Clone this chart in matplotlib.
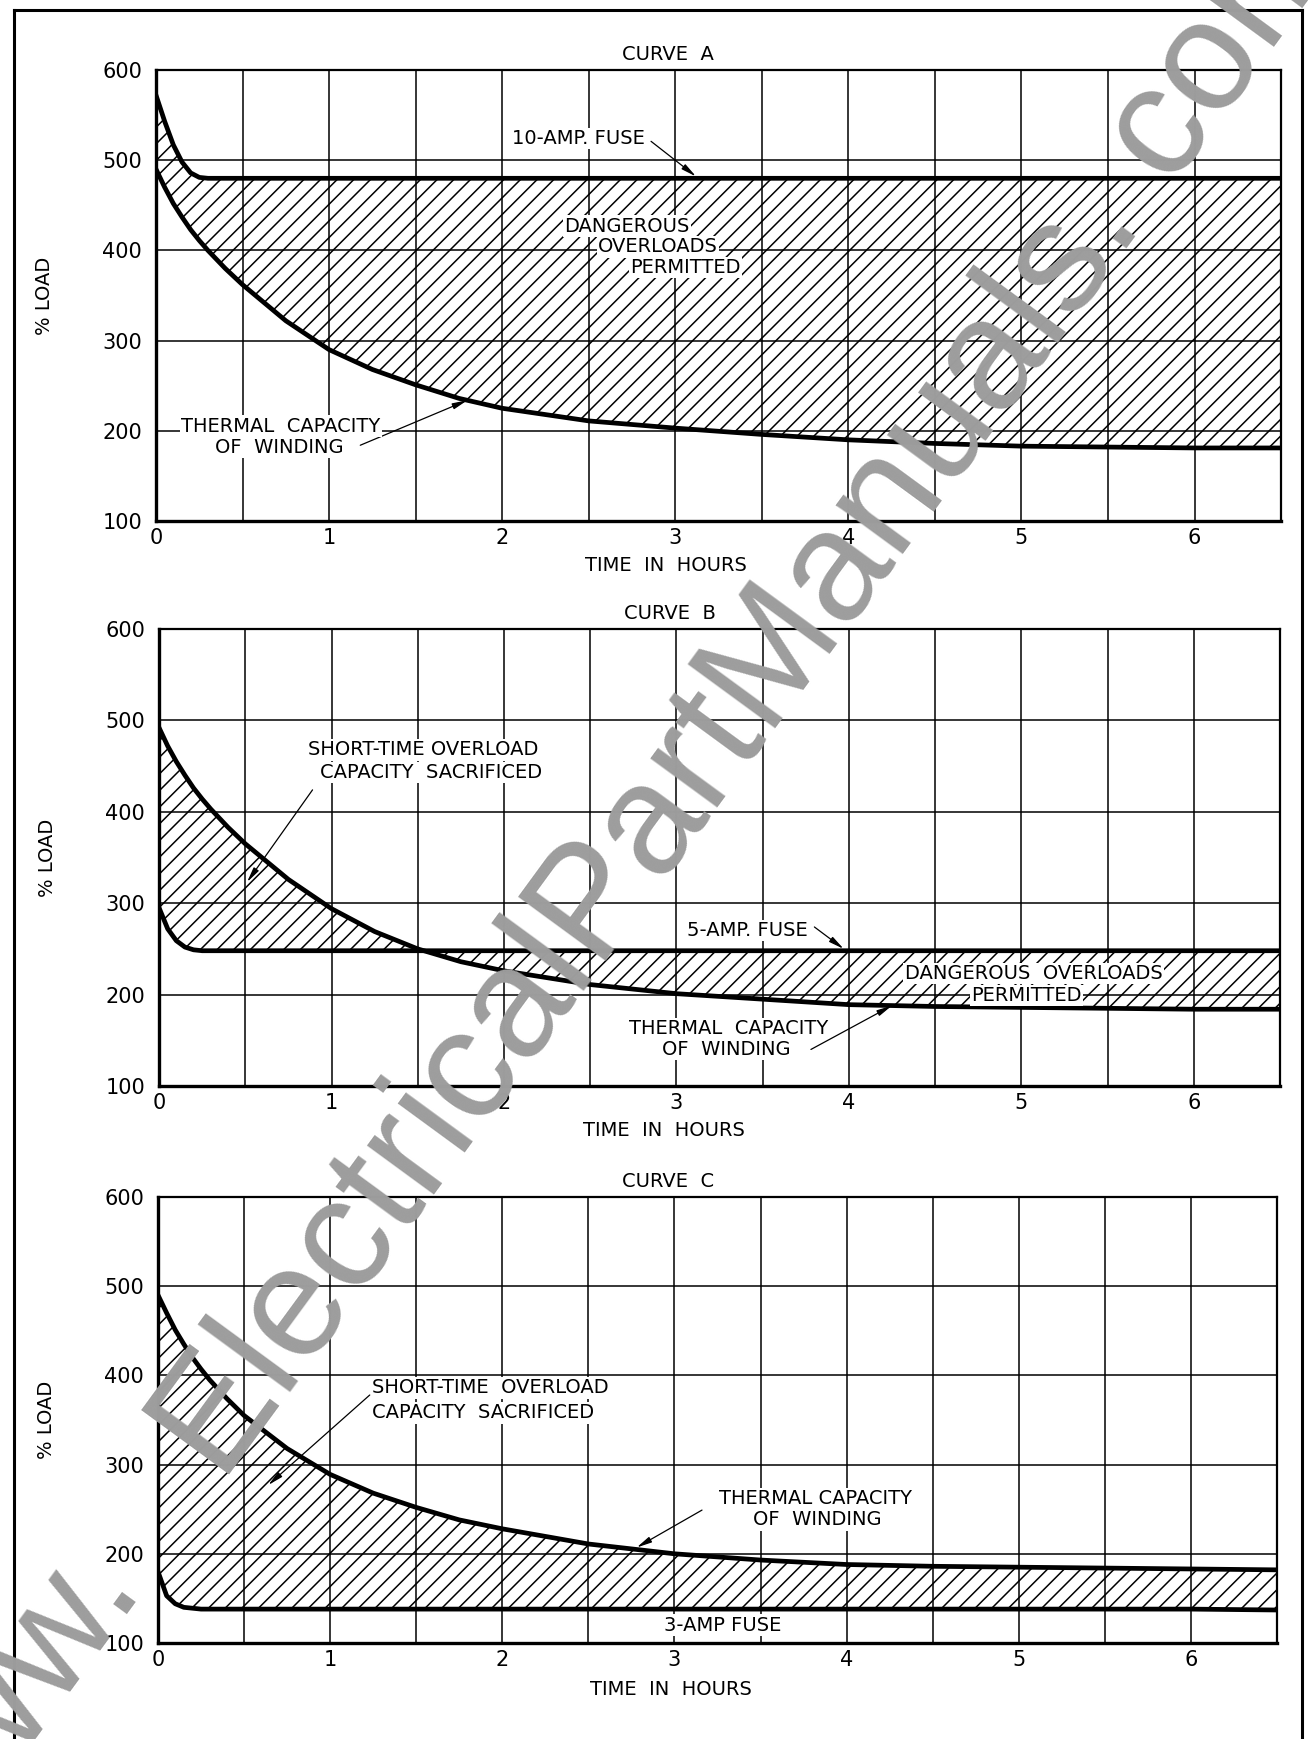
import numpy as np
import matplotlib
matplotlib.use('Agg')
import matplotlib.pyplot as plt
from matplotlib.lines import Line2D

# time axis shared by all three curves (hours)
hours = [0, 0.05, 0.1, 0.15, 0.2, 0.25, 0.3, 0.4, 0.5, 0.75, 1.0, 1.25, 1.5,
         1.75, 2.0, 2.5, 3.0, 3.5, 4.0, 4.5, 5.0, 5.5, 6.0, 6.5]

# curve A: 10-amp fuse
thermal_a = [490, 470, 452, 437, 423, 411, 400, 380, 362, 322, 290, 268, 251,
             236, 225, 211, 203, 196, 190, 186, 183, 182, 181, 181]
fuse_a = [572, 543, 517, 498, 486, 481, 480, 480, 480, 480, 480, 480, 480,
          480, 480, 480, 480, 480, 480, 480, 480, 480, 480, 480]

# curve B: 5-amp fuse
thermal_b = [492, 472, 455, 440, 426, 414, 403, 383, 365, 326, 294, 269, 250,
             236, 226, 211, 201, 195, 189, 187, 186, 185, 184, 184]
fuse_b = [295, 272, 259, 252, 249, 248, 248, 248, 248, 248, 248, 248, 248,
          248, 248, 248, 248, 248, 248, 248, 248, 248, 248, 248]

# curve C: 3-amp fuse
thermal_c = [490, 470, 451, 435, 420, 407, 395, 374, 355, 318, 289, 268, 252,
             238, 228, 211, 200, 193, 188, 186, 185, 184, 183, 182]
fuse_c = [180, 153, 144, 140, 139, 138, 138, 138, 138, 138, 138, 138, 138,
          138, 138, 138, 138, 138, 138, 138, 138, 138, 138, 137]

x_ticks = [0, 1, 2, 3, 4, 5, 6]
x_half = [0.5, 1.5, 2.5, 3.5, 4.5, 5.5]
y_ticks = [100, 200, 300, 400, 500, 600]

plt.rcParams['font.family'] = ['DejaVu Sans']
plt.rcParams['hatch.linewidth'] = 1.1
plt.rcParams['hatch.color'] = 'black'

LBL = 14
box = dict(facecolor='white', edgecolor='none', pad=1.0)
arr = dict(arrowstyle='-|>,head_length=0.9,head_width=0.18', color='black',
           lw=0.9, shrinkA=0, shrinkB=0)

fig = plt.figure(figsize=(13.08, 17.39), dpi=100)


def draw_panel(ax, thermal, fuse, title, xlab_pos):
    ax.set_xlim(0, 6.5)
    ax.set_ylim(100, 600)
    ax.set_xticks(x_ticks)
    ax.set_xticks(x_half, minor=True)
    ax.set_yticks(y_ticks)
    ax.set_axisbelow(True)
    ax.grid(which='both', color='black', lw=1.1)
    ax.tick_params(which='both', length=0)
    ax.tick_params(axis='y', labelsize=15, pad=10)
    ax.tick_params(axis='x', labelsize=15, pad=5)
    for s in ax.spines.values():
        s.set_linewidth(1.6)
    ax.spines['left'].set_linewidth(2.4)
    ax.spines['bottom'].set_linewidth(2.4)

    ax.fill_between(hours, thermal, fuse, facecolor='none', edgecolor='black',
                    hatch='//', lw=0, interpolate=True, zorder=1)
    ax.plot(hours, thermal, color='black', lw=3.4, zorder=3)
    ax.plot(hours, fuse, color='black', lw=3.4, zorder=3)

    ax.text(2.96, 617, title, ha='center', va='center', fontsize=LBL)
    ax.set_ylabel('% LOAD', fontsize=LBL)
    ax.yaxis.set_label_coords(-0.091, 0.5)
    ax.set_xlabel('TIME  IN  HOURS', fontsize=LBL)
    ax.xaxis.set_label_coords(*xlab_pos)


# ---- curve A
ax1 = fig.add_axes([0.1193, 0.7004, 0.8601, 0.2593])
draw_panel(ax1, thermal_a, fuse_a, 'CURVE  A', (0.453, -0.078))
ax1.text(2.44, 524, '10-AMP. FUSE', ha='center', va='center', fontsize=LBL, bbox=box, zorder=5)
ax1.annotate('', xy=(3.12, 482), xytext=(2.86, 521), arrowprops=arr)
ax1.text(2.72, 427, 'DANGEROUS', ha='center', va='center', fontsize=LBL, bbox=box, zorder=5)
ax1.text(2.90, 404, 'OVERLOADS', ha='center', va='center', fontsize=LBL, bbox=box, zorder=5)
ax1.text(3.06, 381, 'PERMITTED', ha='center', va='center', fontsize=LBL, bbox=box, zorder=5)
ax1.text(0.72, 205, 'THERMAL  CAPACITY', ha='center', va='center', fontsize=LBL, bbox=box, zorder=5)
ax1.text(0.71, 182, 'OF  WINDING', ha='center', va='center', fontsize=LBL, bbox=box, zorder=5)
ax1.annotate('', xy=(1.8, 234), xytext=(1.18, 184), arrowprops=arr)

# ---- curve B
ax2 = fig.add_axes([0.1216, 0.3755, 0.8570, 0.2628])
draw_panel(ax2, thermal_b, fuse_b, 'CURVE  B', (0.45, -0.077))
ax2.text(1.53, 468, 'SHORT-TIME OVERLOAD', ha='center', va='center', fontsize=LBL, bbox=box, zorder=5)
ax2.text(1.58, 443, 'CAPACITY  SACRIFICED', ha='center', va='center', fontsize=LBL, bbox=box, zorder=5)
ax2.annotate('', xy=(0.51, 323), xytext=(0.89, 424), arrowprops=arr)
ax2.text(3.41, 270, '5-AMP. FUSE', ha='center', va='center', fontsize=LBL, bbox=box, zorder=5)
ax2.annotate('', xy=(3.97, 250), xytext=(3.80, 274), arrowprops=arr)
ax2.text(5.07, 223, 'DANGEROUS  OVERLOADS', ha='center', va='center', fontsize=LBL, bbox=box, zorder=5)
ax2.text(5.03, 199, 'PERMITTED', ha='center', va='center', fontsize=LBL, bbox=box, zorder=5)
ax2.text(3.30, 163, 'THERMAL  CAPACITY', ha='center', va='center', fontsize=LBL, bbox=box, zorder=5)
ax2.text(3.29, 140, 'OF  WINDING', ha='center', va='center', fontsize=LBL, bbox=box, zorder=5)
ax2.annotate('', xy=(4.25, 188), xytext=(3.78, 140), arrowprops=arr)

# ---- curve C
ax3 = fig.add_axes([0.1208, 0.0552, 0.8555, 0.2565])
draw_panel(ax3, thermal_c, fuse_c, 'CURVE  C', (0.458, -0.082))
ax3.text(1.245, 386, 'SHORT-TIME  OVERLOAD', ha='left', va='center', fontsize=LBL, bbox=box, zorder=5)
ax3.text(1.245, 358, 'CAPACITY  SACRIFICED', ha='left', va='center', fontsize=LBL, bbox=box, zorder=5)
ax3.annotate('', xy=(0.64, 277), xytext=(1.23, 378), arrowprops=arr)
ax3.text(3.82, 262, 'THERMAL CAPACITY', ha='center', va='center', fontsize=LBL, bbox=box, zorder=5)
ax3.text(3.83, 238, 'OF  WINDING', ha='center', va='center', fontsize=LBL, bbox=box, zorder=5)
ax3.annotate('', xy=(2.78, 207), xytext=(3.16, 249), arrowprops=arr)
ax3.text(3.28, 120, '3-AMP FUSE', ha='center', va='center', fontsize=LBL, bbox=box, zorder=5)

# page frame (left, top, right)
fl, fr, ft = 14 / 1308, 1302 / 1308, 1 - 10 / 1739
for xs, ys in [([fl, fl], [0, ft]), ([fl, fr], [ft, ft]), ([fr, fr], [ft, 0])]:
    fig.add_artist(Line2D(xs, ys, transform=fig.transFigure, color='black', lw=2.2))

# watermark
fig.text(0.460, 0.484, 'www.   ElectricalPartManuals. com', rotation=53.8, fontsize=113,
         color='#9d9d9d', family='Liberation Sans', ha='center', va='center',
         rotation_mode='anchor', zorder=20)

fig.savefig('out.png', dpi=100, facecolor='white')
